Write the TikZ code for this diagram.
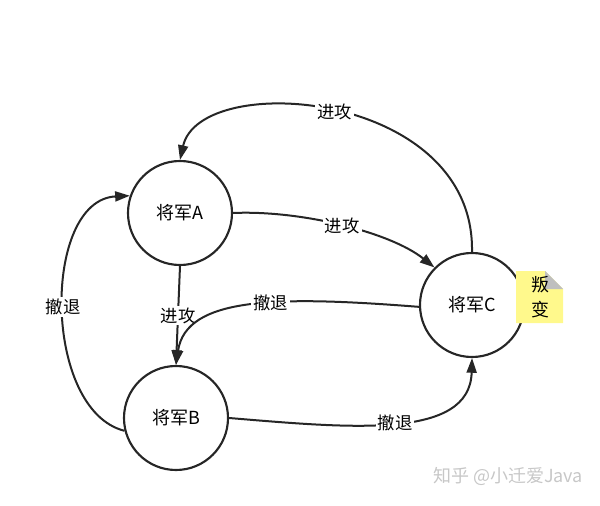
\documentclass[tikz,border=0pt]{standalone}
\usepackage{fontspec}
\setmainfont{Noto Sans CJK SC}
\usetikzlibrary{arrows.meta}
\begin{document}
\begin{tikzpicture}[x=0.75pt,y=-0.75pt,
  general/.style={circle,draw=black!85,line width=1.6pt,minimum size=78pt,inner sep=0pt,font=\fontsize{13.5}{15}\selectfont},
  conn/.style={draw=black!85,line width=1.5pt,-{Triangle[length=11pt,width=7.5pt]}},
  lbl/.style={fill=white,inner sep=1.5pt,font=\fontsize{13}{15}\selectfont}]
\useasboundingbox (0,0) rectangle (600,506);
\node[general] (A) at (180,213) {将军A};
\node[general] (B) at (176,418) {将军B};
\node[general] (C) at (472,305) {将军C};
% note
\fill[yellow!45!white] (516,271) -- (545,271) -- (563,289) -- (563,323) -- (516,323) -- cycle;
\fill[black!25] (545,271) -- (563,289) -- (545,289) -- cycle;
\node[align=center,font=\fontsize{13.5}{19}\selectfont,inner sep=0pt] (note) at (540,297) {叛\\变};
% edges
\draw[conn] (C.north) .. controls (475,90) and (200,70) .. (A.north)
  node[lbl,pos=0.5] (l1) {进攻};
\draw[conn] (A.east) .. controls (300,210) and (390,232) .. (C.135)
  node[lbl,pos=0.5] (l2) {进攻};
\draw[conn] (A.south) -- (B.north) node[lbl,pos=0.5] (l3) {进攻};
\draw[conn] (C.182) .. controls (280,296) and (186,296) .. (B.north)
  node[lbl,pos=0.42] (l4) {撤退};
\draw[conn] (B.194) .. controls (42,410) and (42,200) .. (A.161)
  node[lbl,pos=0.5] (l5) {撤退};
\draw[conn] (B.east) .. controls (350,428) and (470,440) .. (C.south)
  node[lbl,pos=0.5] (l6) {撤退};
\node[text=black!22,font=\fontsize{13.5}{15}\selectfont] (wm) at (508,476) {知乎 @小迁爱Java};
\end{tikzpicture}
\end{document}
